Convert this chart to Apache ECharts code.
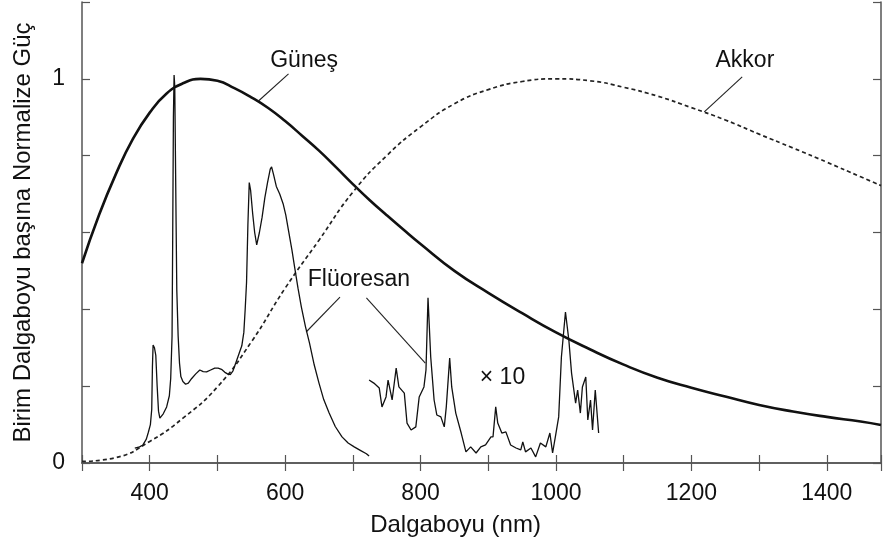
<!DOCTYPE html>
<html>
<head>
<meta charset="utf-8">
<script src="https://cdn.jsdelivr.net/npm/echarts@6/dist/echarts.min.js"></script>
<style>
html,body{margin:0;padding:0;background:#fff;}
#c{width:884px;height:546px;}
</style>
</head>
<body>
<div id="c"></div>
<script>
// ---- data ----
const xTicks = [400, 600, 800, 1000, 1200, 1400];
const yTickLabels = [0, 1];

const sunNm  = [300,325,350,375,400,425,450,475,500,525,550,575,600,625,650,675,700,725,750,775,800,850,900,950,1000,1050,1100,1150,1200,1250,1300,1350,1400,1450,1480];
const sunVal = [0.52,0.645,0.752,0.843,0.912,0.962,0.989,1.0,0.995,0.976,0.952,0.924,0.89,0.852,0.813,0.77,0.726,0.684,0.645,0.607,0.57,0.5,0.443,0.39,0.34,0.296,0.256,0.222,0.196,0.173,0.151,0.134,0.12,0.108,0.099];

const akkorNm  = [300,350,400,450,500,550,600,650,700,750,800,850,900,950,1000,1050,1100,1150,1200,1250,1300,1350,1400,1450,1480];
const akkorVal = [0.004,0.014,0.056,0.118,0.198,0.315,0.455,0.58,0.705,0.80,0.875,0.935,0.972,0.993,1.0,0.995,0.978,0.955,0.925,0.893,0.856,0.82,0.783,0.745,0.722];

const fluoVisNm  = [378,385,390,395,398,401,403,404,405,407,409,411,413,415,420,425,429,431,433,434,435,436,437,438,439,440,442,444,446,449,453,457,462,468,474,479,484,490,496,501,506,511,515,519,523,528,532,536,539,541,543,545,547,549,552,555,558,562,566,570,574,578,580,583,587,592,597,601,605,610,614,619,624,630,636,643,650,657,665,674,684,693,702,711,720,724];
const fluoVisVal = [0.039,0.042,0.047,0.062,0.08,0.1,0.14,0.25,0.307,0.3,0.28,0.2,0.135,0.117,0.128,0.146,0.175,0.22,0.33,0.6,0.9,1.01,0.98,0.8,0.62,0.45,0.33,0.26,0.225,0.212,0.205,0.208,0.22,0.232,0.242,0.238,0.237,0.242,0.247,0.247,0.244,0.236,0.232,0.23,0.24,0.265,0.285,0.305,0.34,0.4,0.47,0.62,0.73,0.71,0.65,0.6,0.568,0.6,0.64,0.69,0.73,0.765,0.771,0.75,0.72,0.7,0.675,0.645,0.605,0.555,0.51,0.455,0.406,0.355,0.312,0.255,0.208,0.165,0.13,0.095,0.068,0.052,0.042,0.033,0.024,0.018];

const fluoIrNm  = [724,731,739,743,749,752,756,758,764,768,776,780,786,793,798,805,808,811,815,820,824,830,835,838,843,846,852,860,867,874,882,889,896,904,907,911,914,920,926,933,941,948,951,955,963,970,977,985,991,995,1000,1004,1008,1014,1019,1023,1029,1032,1036,1039,1044,1047,1051,1054,1058,1063];
const fluoIrVal = [0.216,0.208,0.195,0.146,0.172,0.216,0.182,0.164,0.247,0.198,0.182,0.104,0.086,0.094,0.172,0.198,0.242,0.43,0.276,0.164,0.125,0.12,0.094,0.146,0.273,0.198,0.13,0.078,0.029,0.042,0.026,0.042,0.047,0.068,0.068,0.146,0.104,0.078,0.081,0.047,0.039,0.034,0.055,0.029,0.039,0.016,0.052,0.042,0.078,0.026,0.078,0.12,0.276,0.393,0.32,0.234,0.156,0.19,0.13,0.198,0.224,0.112,0.164,0.086,0.19,0.078];

// annotations (data coordinates)
const labelTexts = ['Güneş', 'Akkor', 'Flüoresan', '× 10'];
const labelNm    = [628, 1279, 709, 921];
const labelVal   = [1.047, 1.047, 0.476, 0.221];
const leaderFrom = [[605, 1.013], [1275, 1.005], [681, 0.432], [720, 0.43]];
const leaderTo   = [[561, 0.943], [1219, 0.914], [631, 0.341], [807, 0.26]];

const pairs = (xs, ys) => xs.map((x, i) => [x, ys[i]]);
const FONT = '"Liberation Sans", Arial, Helvetica, sans-serif';
const AX = '#555';

const chart = echarts.init(document.getElementById('c'), null, {renderer: 'canvas'});
const option = {
  backgroundColor: '#fff',
  animation: false,
  grid: {left: 82, right: 1, top: 2, bottom: 83},
  xAxis: [{
    type: 'value', min: 300, max: 1480, interval: 100,
    name: 'Dalgaboyu (nm)', nameLocation: 'middle', nameGap: 50,
    nameTextStyle: {fontFamily: FONT, fontSize: 24, color: '#111', padding: [0, 52, 0, 0]},
    axisLine: {show: true, lineStyle: {color: AX, width: 1.5}},
    axisTick: {show: true, inside: true, length: 8, lineStyle: {color: AX, width: 1.2}},
    axisLabel: {margin: 19, fontFamily: FONT, fontSize: 23, color: '#111',
      formatter: v => (xTicks.indexOf(v) >= 0 ? String(v) : '')},
    splitLine: {show: false}
  }, {
    type: 'value', position: 'top', min: 300, max: 1480, interval: 100,
    axisLine: {show: true, lineStyle: {color: AX, width: 1.5}},
    axisTick: {show: true, inside: true, length: 8, lineStyle: {color: AX, width: 1.2}},
    axisLabel: {show: false}, splitLine: {show: false}
  }],
  yAxis: [{
    type: 'value', min: 0, max: 1.2, interval: 0.2,
    name: 'Birim Dalgaboyu başına Normalize Güç', nameLocation: 'middle', nameGap: 47,
    nameTextStyle: {fontFamily: FONT, fontSize: 24, color: '#111'},
    axisLine: {show: true, lineStyle: {color: AX, width: 1.5}},
    axisTick: {show: true, inside: true, length: 8, lineStyle: {color: AX, width: 1.2}},
    axisLabel: {margin: 17, fontFamily: FONT, fontSize: 23, color: '#111',
      formatter: v => (yTickLabels.some(t => Math.abs(t - v) < 1e-6) ? String(Math.round(v)) : '')},
    splitLine: {show: false}
  }, {
    type: 'value', position: 'right', min: 0, max: 1.2, interval: 0.2,
    axisLine: {show: true, lineStyle: {color: AX, width: 1.5}},
    axisTick: {show: true, inside: true, length: 8, lineStyle: {color: AX, width: 1.2}},
    axisLabel: {show: false}, splitLine: {show: false}
  }],
  series: [
    {name: 'Güneş', type: 'line', data: pairs(sunNm, sunVal), smooth: 0.5, showSymbol: false,
      lineStyle: {color: '#111', width: 2.6}},
    {name: 'Akkor', type: 'line', data: pairs(akkorNm, akkorVal), smooth: 0.5, showSymbol: false,
      lineStyle: {color: '#222', width: 1.7, type: [4, 3]}},
    {name: 'Flüoresan', type: 'line', data: pairs(fluoVisNm, fluoVisVal), showSymbol: false,
      lineStyle: {color: '#111', width: 1.3}},
    {name: 'Flüoresan x10', type: 'line', data: pairs(fluoIrNm, fluoIrVal), showSymbol: false,
      lineStyle: {color: '#111', width: 1.3}}
  ]
};
chart.setOption(option);

const g = [];
labelTexts.forEach((t, i) => {
  const p = chart.convertToPixel({gridIndex: 0}, [labelNm[i], labelVal[i]]);
  g.push({type: 'text', x: p[0], y: p[1], style: {text: t, fontFamily: FONT, fontSize: 23,
    fill: '#111', align: 'center', verticalAlign: 'middle'}});
});
leaderFrom.forEach((a, i) => {
  const p1 = chart.convertToPixel({gridIndex: 0}, a);
  const p2 = chart.convertToPixel({gridIndex: 0}, leaderTo[i]);
  g.push({type: 'line', shape: {x1: p1[0], y1: p1[1], x2: p2[0], y2: p2[1]},
    style: {stroke: '#222', lineWidth: 1.1}});
});
chart.setOption({graphic: g});
</script>
</body>
</html>
